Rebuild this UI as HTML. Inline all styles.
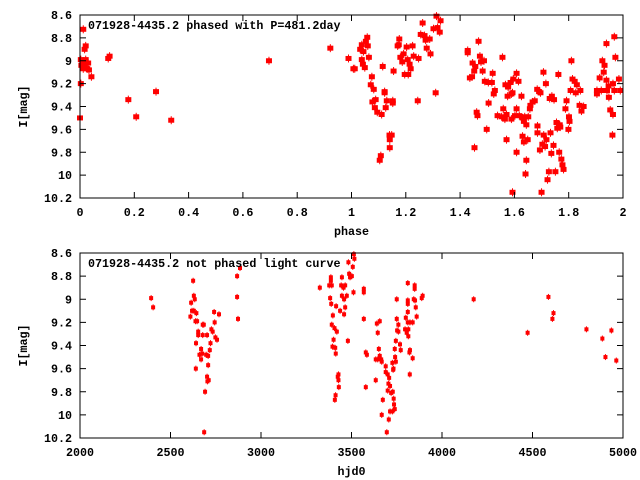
<!DOCTYPE html>
<html><head><meta charset="utf-8"><style>
html,body{margin:0;padding:0;background:#fff;}
svg{display:block;}
text{font-family:"Liberation Mono",monospace;font-weight:bold;font-size:11.7px;fill:#000;}
</style></head><body>
<svg id="chart" width="640" height="480" xmlns="http://www.w3.org/2000/svg"></svg>
<script>
// ---- phased panel data ----
const phaseVals=[0.012,0.017,0.021,0.003,0.009,0.015,0.021,0.025,0.03,0.012,0.027,0.033,0.005,0.042,0.003,0.0,0.104,0.109,0.178,0.207,0.28,0.336,0.696,0.922,0.989,1.007,
1.012,1.038,1.032,1.044,1.053,1.058,1.060,1.038,1.042,1.049,1.064,1.075,1.071,1.082,1.077,1.089,1.086,1.095,1.111,1.122,1.122,1.130,1.126,1.152,1.152,1.140,1.148,1.141,1.141,1.108,1.104,1.115,1.155,1.176,1.170,1.174,1.180,1.187,1.192,1.203,1.207,1.214,1.218,1.225,1.229,1.247,1.196,1.209,1.244,1.262,1.255,1.269,1.273,1.288,1.277,1.291,1.313,1.328,1.302,1.317,1.325,1.310,
1.428,1.428,1.468,1.473,1.446,1.456,1.452,1.436,1.444,1.477,1.488,1.483,1.491,1.504,1.517,1.520,1.556,1.528,1.524,1.505,1.461,1.464,1.498,1.453,1.538,1.559,1.553,1.565,1.571,1.571,1.567,1.577,1.586,1.596,1.608,1.615,1.575,1.589,1.593,1.589,1.602,1.608,1.618,1.626,1.608,1.593,1.630,1.638,1.635,1.644,1.651,1.657,1.659,1.667,1.675,1.630,1.635,1.649,1.644,1.641,1.684,1.691,1.696,1.707,1.716,1.685,1.685,1.694,1.703,1.708,1.713,1.718,1.700,1.722,1.727,1.733,1.736,1.744,1.730,1.738,1.746,1.751,1.762,1.755,1.758,1.767,1.769,1.765,1.773,1.777,1.781,1.792,1.788,1.799,1.801,1.803,1.807,1.810,1.814,1.822,1.830,1.826,1.843,1.840,1.847,1.855,1.904,1.904,1.914,1.920,1.924,1.932,1.929,1.939,1.939,1.947,1.941,1.948,1.953,1.963,1.961,1.968,1.972,1.963,1.968,1.985,1.990];
const phaseMags=[8.725,8.90,8.87,8.99,9.01,9.04,8.99,9.02,9.02,9.07,9.07,9.08,9.04,9.14,9.20,9.50,8.98,8.96,9.34,9.49,9.27,9.52,9.0,8.89,8.98,9.07,
9.07,8.86,8.90,8.92,8.83,8.795,8.87,8.99,9.03,9.06,8.97,9.14,9.21,9.25,9.36,9.34,9.41,9.45,9.47,9.27,9.28,9.35,9.41,9.35,9.37,9.65,9.65,9.69,9.76,9.83,9.87,9.05,9.09,8.81,8.87,8.86,8.97,9.01,8.94,8.88,8.99,9.03,9.07,8.87,8.96,8.98,9.12,9.12,9.35,8.67,8.77,8.78,8.82,8.81,8.89,8.94,8.61,8.65,8.72,8.71,8.75,9.28,
8.91,8.93,8.83,8.96,9.02,9.05,9.09,9.15,9.14,9.01,9.0,9.09,9.18,9.19,9.19,9.11,8.97,9.26,9.29,9.37,9.45,9.48,9.60,9.76,9.48,9.42,9.49,9.51,9.47,9.69,9.21,9.23,9.19,9.16,9.11,9.18,9.31,9.29,9.28,9.51,9.48,9.42,9.48,9.31,9.80,10.15,9.50,9.49,9.53,9.56,9.49,9.42,9.39,9.36,9.35,9.66,9.71,9.69,9.87,9.99,9.25,9.27,9.28,9.10,9.20,9.57,9.63,9.78,9.73,9.65,9.75,9.69,10.15,10.04,9.97,9.63,9.81,9.74,9.33,9.31,9.34,9.97,9.12,9.54,9.59,9.56,9.58,9.80,9.86,9.91,9.95,9.35,9.42,9.60,9.49,9.53,9.26,9.0,9.16,9.18,9.21,9.28,9.26,9.39,9.44,9.40,9.26,9.29,9.15,9.26,9.0,9.04,9.10,8.85,9.17,9.22,9.26,9.32,9.43,9.47,9.65,8.79,8.97,9.20,9.26,9.16,9.26];
// ---- unphased panel data ----
const hjdVals=[2393,2404,2625,2614,2629,2634,2619,2629,2610,2643,2638,2647,2678,2684,2653,2653,2678,2702,2726,2733,2744,2741,2768,2641,2669,2660,2675,2669,2697,2708,2721,2717,2748,2757,2640,2708,2702,2711,2704,2691,2686,2868,2868,2873,2884,
3325,3377,3386,3386,3391,3382,3388,3397,3391,3406,3419,3415,3401,3395,3410,3413,3428,3424,3428,3430,3412,3408,3437,3447,3443,3456,3465,3447,3459,3465,3459,3480,3483,3487,3492,3502,3507,3513,3516,3511,3474,
3568,3568,3568,3579,3585,3579,3634,3640,3656,3645,3651,3634,3645,3656,3664,3667,3689,3689,3700,3708,3704,3713,3700,3719,3728,3673,3667,3706,3695,3713,3726,3739,3735,3733,3726,3732,3745,3730,3741,3739,3745,3752,3759,3750,3759,3768,3772,3750,3796,3805,3814,3814,3800,3811,3823,3838,3811,3811,3811,3811,3849,3849,3844,3851,3855,3860,3823,3820,3838,3822,3888,3893,
4175,4473,4588,4616,4610,4798,4886,4936,4903,4963];
const hjdMags=[8.99,9.07,8.84,9.03,8.97,9.0,9.10,9.10,9.15,9.12,9.19,9.19,9.22,9.22,9.28,9.31,9.31,9.31,9.26,9.28,9.20,9.11,9.13,9.38,9.43,9.48,9.47,9.52,9.48,9.49,9.38,9.44,9.33,9.35,9.60,9.57,9.67,9.70,9.71,9.80,10.15,8.80,8.98,9.17,8.73,
8.90,8.88,8.81,8.84,8.88,8.99,9.04,9.14,9.22,9.25,9.28,9.06,9.35,9.41,9.42,9.47,9.65,9.67,9.70,9.76,9.83,9.87,9.10,8.81,8.88,8.90,8.88,8.97,9.0,9.07,9.13,9.36,8.68,8.78,8.81,8.80,8.72,8.61,8.65,8.94,8.97,
8.91,8.94,9.17,9.46,9.48,9.76,9.70,9.21,9.19,9.29,9.43,9.52,9.52,9.49,9.52,9.54,9.58,9.63,9.65,9.68,9.73,9.75,9.79,9.81,9.80,9.87,10.0,10.04,10.15,9.97,9.97,9.95,9.91,9.86,9.55,9.60,9.54,9.61,9.50,9.43,9.36,9.27,9.28,9.17,9.22,9.39,9.44,9.0,9.26,9.29,9.26,9.32,9.16,9.20,9.20,9.20,9.01,9.04,8.86,9.11,8.88,8.91,9.0,9.01,9.07,9.15,9.44,9.46,9.51,9.65,8.99,8.97,
9.0,9.29,8.98,9.12,9.17,9.26,9.34,9.27,9.50,9.53];
const yTicks=[8.6,8.8,9,9.2,9.4,9.6,9.8,10,10.2];
const yTickLabels=["8.6","8.8","9","9.2","9.4","9.6","9.8","10","10.2"];
const phaseTicks=[0,0.2,0.4,0.6,0.8,1,1.2,1.4,1.6,1.8,2];
const phaseTickLabels=["0","0.2","0.4","0.6","0.8","1","1.2","1.4","1.6","1.8","2"];
const hjdTicks=[2000,2500,3000,3500,4000,4500,5000];
const hjdTickLabels=["2000","2500","3000","3500","4000","4500","5000"];

const NS="http://www.w3.org/2000/svg";
const svg=document.getElementById('chart');
function mk(tag,attrs,parent){const e=document.createElementNS(NS,tag);for(const k in attrs)e.setAttribute(k,attrs[k]);(parent||svg).appendChild(e);return e;}

function panel(cfg){
  const g=mk('g',{});
  
  
  const L=80,R=623,T=cfg.top,B=cfg.bottom;
  const sx=v=>L+(v-cfg.xmin)/(cfg.xmax-cfg.xmin)*(R-L);
  const sy=v=>T+(v-8.6)/(10.2-8.6)*(B-T);
  // points
  const pts=mk('g',{fill:'#ff0000',stroke:'#ff0000'},g);
  
  
  for(let i=0;i<cfg.xs.length;i++){
    const x=sx(cfg.xs[i]),y=sy(cfg.ys[i]);
    const p=mk('g',{},pts);
    
    
    mk('line',{x1:x,y1:y-cfg.eb,x2:x,y2:y+cfg.eb,'stroke-width':1},p);
    mk('rect',{x:x-cfg.mw/2,y:y-cfg.mh/2,width:cfg.mw,height:cfg.mh,stroke:'none'},p);
  }
  // frame
  const fr=mk('rect',{x:L,y:T,width:R-L,height:B-T,fill:'none',stroke:'#000','stroke-width':1},g);
  
  
  // y ticks
  const ya=mk('g',{},g);
  
  
  yTicks.forEach((v,i)=>{
    const y=sy(v);
    if(i>0&&i<yTicks.length-1){
      mk('line',{x1:L,y1:y,x2:L+6,y2:y,stroke:'#000'},ya);
      mk('line',{x1:R,y1:y,x2:R-6,y2:y,stroke:'#000'},ya);
    }
    const t=mk('text',{x:72,y:y+4,'text-anchor':'end'},ya);
    t.textContent=yTickLabels[i];
    
    
  });
  // x ticks
  const xa=mk('g',{},g);
  
  
  cfg.xt.forEach((v,i)=>{
    const x=sx(v);
    if(i>0&&i<cfg.xt.length-1){
      mk('line',{x1:x,y1:B,x2:x,y2:B-6,stroke:'#000'},xa);
      mk('line',{x1:x,y1:T,x2:x,y2:T+6,stroke:'#000'},xa);
    }
    const t=mk('text',{x:x,y:B+18,'text-anchor':'middle'},xa);
    t.textContent=cfg.xtl[i];
    
    
  });
  const xt=mk('text',{x:(L+R)/2,y:B+37,'text-anchor':'middle'},g);
  xt.textContent=cfg.xtitle;
  
  
  const ytl=mk('text',{x:0,y:0,'text-anchor':'middle',transform:'translate(27,'+((T+B)/2)+') rotate(-90)'},g);
  ytl.textContent='I[mag]';
  
  
  const tt=mk('text',{x:88,y:T+14},g);
  tt.textContent=cfg.title;
  
  
}
panel({name:'phased-panel',top:15,bottom:198,xmin:0,xmax:2,xs:phaseVals,ys:phaseMags,xt:phaseTicks,xtl:phaseTickLabels,xtitle:'phase',title:'071928-4435.2 phased with P=481.2day',mw:6,mh:5,eb:4});
panel({name:'unphased-panel',top:253,bottom:438,xmin:2000,xmax:5000,xs:hjdVals,ys:hjdMags,xt:hjdTicks,xtl:hjdTickLabels,xtitle:'hjd0',title:'071928-4435.2 not phased light curve',mw:4,mh:4,eb:3});
</script>
</body></html>
